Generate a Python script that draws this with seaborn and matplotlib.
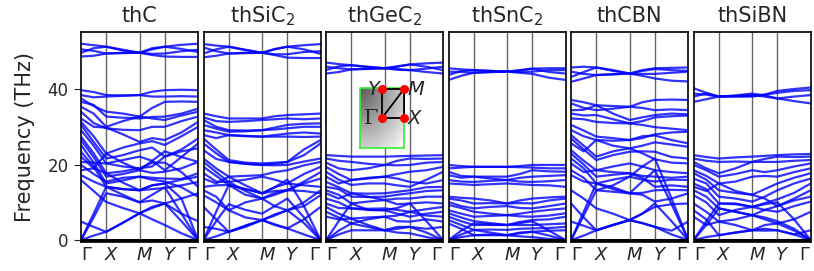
import numpy as np
import pandas as pd
import seaborn as sns
import matplotlib
matplotlib.use("Agg")
import matplotlib.pyplot as plt
from matplotlib.transforms import ScaledTranslation

# high-symmetry path and relative segment lengths (rectangular cell)
path_labels = [r"$\Gamma$", r"$X$", r"$M$", r"$Y$", r"$\Gamma$"]
seg_lengths = [0.757, 1.0, 0.757, 1.0]

titles = ["thC", r"thSiC$_2$", r"thGeC$_2$", r"thSnC$_2$", "thCBN", "thSiBN"]

# band frequencies (THz) read at G, mid, X, mid, M, mid, Y, mid, G
thC = [
    [52.0, 51.6, 51.2, 50.4, 49.6, 50.5, 51.2, 51.7, 52.0],
    [50.5, 50.1, 49.4, 49.5, 49.6, 49.3, 49.4, 50.0, 50.4],
    [49.6, 50.8, 51.2, 50.2, 49.6, 50.8, 51.2, 50.6, 49.8],
    [48.6, 48.8, 49.4, 49.6, 49.6, 49.0, 48.6, 48.5, 48.5],
    [39.7, 39.2, 38.4, 38.3, 38.4, 39.3, 39.7, 39.8, 39.7],
    [38.4, 37.8, 38.0, 38.2, 38.4, 38.0, 38.0, 38.1, 38.0],
    [37.5, 35.5, 34.0, 33.5, 32.7, 35.0, 36.6, 36.7, 36.6],
    [36.6, 35.8, 32.7, 32.4, 32.2, 32.6, 32.7, 33.5, 34.8],
    [35.3, 33.5, 30.0, 31.5, 32.7, 32.2, 31.8, 33.0, 34.0],
    [34.0, 31.0, 29.6, 29.2, 29.1, 30.0, 30.0, 31.5, 32.7],
    [32.2, 30.0, 29.8, 28.0, 26.0, 27.0, 26.5, 28.5, 31.3],
    [31.3, 27.5, 22.9, 24.5, 25.6, 26.2, 25.2, 27.5, 30.0],
    [30.5, 26.0, 21.6, 22.5, 23.8, 24.5, 22.1, 24.0, 26.9],
    [29.1, 25.0, 20.3, 21.2, 22.1, 21.0, 18.5, 22.0, 25.6],
    [27.4, 23.0, 17.7, 18.2, 19.0, 19.5, 22.1, 23.5, 24.3],
    [26.5, 22.0, 16.8, 17.5, 18.5, 17.8, 18.1, 19.0, 20.7],
    [25.2, 20.5, 15.0, 15.8, 16.8, 16.5, 16.3, 16.2, 17.7],
    [23.4, 19.5, 14.1, 13.5, 13.2, 14.5, 15.0, 16.0, 16.8],
    [22.1, 19.0, 17.7, 15.2, 13.2, 13.5, 13.8, 14.5, 15.4],
    [20.7, 20.5, 20.3, 19.5, 19.0, 20.5, 20.5, 18.0, 14.1],
    [19.9, 17.5, 15.5, 16.5, 16.8, 16.0, 15.5, 14.0, 11.5],
    [18.5, 19.0, 22.9, 20.5, 18.5, 21.0, 23.5, 22.0, 20.7],
    [17.2, 15.5, 14.1, 12.0, 10.0, 10.5, 9.7, 11.0, 12.4],
    [15.9, 13.0, 10.1, 8.5, 7.1, 8.5, 9.7, 7.0, 5.0],
    [0.0, 1.2, 2.2, 4.6, 7.1, 5.5, 4.0, 1.8, 0.0],
    [4.9, 3.5, 2.2, 4.6, 7.1, 8.8, 9.7, 5.0, 0.0],
    [0.0, 6.0, 12.4, 11.5, 10.0, 12.0, 14.0, 7.0, 0.0],
    [0.0, 7.0, 14.1, 13.5, 13.2, 14.5, 15.0, 11.0, 0.0],
]

thSiC2 = [
    [51.9, 51.5, 51.2, 50.3, 49.6, 50.5, 51.2, 51.6, 51.9],
    [51.0, 50.0, 49.4, 49.5, 49.6, 49.2, 49.2, 49.8, 50.0],
    [49.4, 50.5, 51.2, 50.4, 49.6, 50.6, 51.2, 50.5, 49.3],
    [48.4, 48.8, 49.4, 49.6, 49.6, 49.0, 48.3, 48.2, 48.2],
    [33.5, 32.8, 32.2, 32.2, 32.2, 32.8, 33.1, 33.3, 33.5],
    [32.5, 31.5, 31.3, 31.5, 31.8, 32.0, 32.2, 32.0, 32.2],
    [31.8, 30.0, 29.1, 29.0, 29.1, 29.8, 30.5, 30.8, 30.9],
    [30.5, 29.5, 28.7, 28.8, 29.1, 29.3, 29.6, 30.0, 30.0],
    [29.1, 28.5, 27.8, 27.5, 27.4, 27.8, 28.2, 28.5, 28.2],
    [27.8, 27.0, 27.8, 27.6, 27.4, 27.4, 27.4, 27.3, 27.4],
    [26.9, 24.0, 21.2, 20.5, 20.3, 20.5, 20.7, 24.0, 26.5],
    [25.6, 23.0, 20.7, 20.2, 19.9, 20.2, 20.7, 22.5, 25.6],
    [23.8, 21.5, 20.7, 20.2, 19.9, 19.8, 19.9, 20.8, 21.6],
    [21.6, 19.0, 16.8, 17.0, 17.2, 18.0, 18.5, 19.8, 20.7],
    [20.7, 18.0, 15.4, 16.0, 16.8, 16.0, 15.0, 17.5, 19.4],
    [19.4, 17.0, 14.6, 13.5, 12.4, 13.0, 13.2, 15.5, 18.0],
    [17.7, 15.5, 15.4, 13.0, 11.0, 12.0, 13.2, 15.0, 16.3],
    [16.3, 15.0, 16.8, 14.5, 12.4, 14.0, 15.0, 14.5, 14.1],
    [14.1, 14.5, 14.6, 12.0, 11.0, 12.5, 13.2, 13.0, 12.4],
    [13.2, 11.5, 7.9, 10.0, 11.0, 9.0, 7.9, 10.0, 13.2],
    [11.9, 10.0, 7.9, 6.0, 5.3, 6.5, 7.9, 9.0, 11.9],
    [8.8, 5.5, 2.2, 3.5, 5.3, 4.0, 3.1, 5.5, 8.8],
    [0.0, 1.0, 2.2, 3.8, 5.3, 4.2, 3.1, 1.5, 0.0],
    [3.5, 3.0, 2.2, 3.8, 5.3, 6.8, 7.9, 4.5, 0.0],
    [0.0, 5.0, 9.5, 8.0, 7.0, 9.0, 11.0, 6.0, 0.0],
    [0.0, 7.5, 14.6, 13.5, 12.4, 14.0, 16.0, 9.0, 0.0],
]

thGeC2 = [
    [47.0, 46.6, 46.3, 45.9, 45.5, 46.0, 46.5, 46.8, 47.0],
    [45.9, 45.5, 45.2, 45.3, 45.5, 45.3, 45.0, 45.4, 45.9],
    [45.0, 46.0, 46.3, 45.8, 45.5, 45.9, 46.5, 45.9, 45.0],
    [44.1, 44.5, 45.2, 45.4, 45.5, 45.1, 45.0, 44.5, 44.1],
    [22.5, 22.3, 22.1, 22.1, 22.1, 22.2, 22.3, 22.4, 22.5],
    [21.6, 21.0, 20.7, 20.2, 19.9, 21.0, 21.6, 21.5, 21.6],
    [20.5, 19.0, 18.5, 19.0, 19.9, 19.8, 19.9, 20.5, 20.7],
    [19.4, 17.5, 15.9, 16.5, 16.8, 17.5, 18.1, 18.5, 19.4],
    [18.1, 16.0, 14.6, 15.0, 15.0, 14.5, 14.1, 16.0, 18.1],
    [16.8, 15.0, 15.9, 16.3, 16.8, 16.3, 15.4, 15.0, 15.9],
    [15.4, 14.0, 12.4, 12.3, 12.4, 12.8, 13.2, 14.0, 14.1],
    [14.1, 13.5, 11.5, 11.4, 11.5, 12.0, 12.4, 13.0, 13.2],
    [13.2, 12.0, 9.7, 10.2, 10.6, 11.0, 11.0, 11.5, 11.5],
    [12.4, 11.0, 12.4, 11.5, 10.6, 9.5, 9.7, 10.0, 9.7],
    [11.0, 10.0, 8.4, 8.3, 8.4, 8.0, 7.5, 8.2, 8.8],
    [9.7, 8.5, 8.4, 8.0, 7.9, 7.0, 6.2, 7.0, 7.5],
    [8.8, 7.0, 5.7, 6.0, 6.2, 6.5, 7.5, 6.5, 6.2],
    [7.5, 6.0, 4.4, 5.5, 6.2, 5.0, 4.9, 5.5, 4.9],
    [6.2, 5.5, 5.7, 4.0, 2.6, 3.5, 3.5, 3.0, 3.5],
    [0.0, 1.5, 2.6, 2.6, 2.6, 2.0, 1.8, 0.8, 0.0],
    [0.0, 2.5, 4.4, 3.5, 2.6, 3.0, 3.5, 2.0, 0.0],
    [0.0, 5.0, 9.7, 8.0, 7.9, 8.5, 9.7, 5.0, 0.0],
]

thSnC2 = [
    [45.5, 45.2, 45.0, 44.8, 44.6, 45.0, 45.4, 45.5, 45.5],
    [44.6, 44.5, 44.3, 44.5, 44.6, 44.5, 44.6, 45.0, 45.0],
    [43.7, 44.8, 45.0, 44.8, 44.6, 44.9, 45.4, 44.5, 44.1],
    [42.4, 43.5, 44.3, 44.5, 44.6, 44.3, 44.0, 43.0, 42.4],
    [19.9, 19.6, 19.4, 19.4, 19.4, 19.6, 19.9, 19.9, 19.9],
    [19.0, 19.2, 19.4, 19.4, 19.4, 19.3, 19.2, 19.0, 19.0],
    [18.1, 17.0, 16.8, 16.8, 16.8, 17.5, 18.5, 18.2, 18.1],
    [17.2, 16.5, 16.8, 16.3, 15.9, 16.5, 16.8, 17.0, 17.2],
    [15.9, 15.5, 15.4, 15.7, 15.9, 15.5, 15.4, 15.6, 15.9],
    [15.0, 14.8, 14.6, 14.8, 15.0, 14.8, 14.6, 14.5, 14.1],
    [11.5, 11.2, 11.0, 10.5, 9.7, 10.5, 11.0, 11.3, 11.5],
    [11.0, 10.5, 9.7, 9.8, 9.7, 9.8, 9.7, 10.5, 11.0],
    [10.1, 9.0, 8.4, 8.8, 9.0, 8.5, 8.4, 9.0, 9.7],
    [9.3, 8.5, 7.5, 7.0, 6.6, 7.0, 7.5, 8.0, 8.4],
    [7.9, 7.0, 6.2, 6.4, 6.6, 6.3, 6.2, 6.5, 7.1],
    [7.1, 6.0, 5.0, 4.5, 4.0, 4.8, 5.3, 5.5, 6.2],
    [6.2, 5.0, 4.0, 4.0, 4.0, 4.0, 4.0, 4.2, 4.4],
    [5.3, 4.0, 2.7, 2.8, 2.7, 3.0, 3.1, 3.2, 3.5],
    [4.4, 3.0, 1.3, 1.5, 1.3, 1.8, 2.2, 2.5, 2.6],
    [0.0, 0.8, 1.3, 1.3, 1.3, 1.0, 0.8, 0.3, 0.0],
    [0.0, 1.5, 2.7, 2.0, 1.3, 2.0, 2.2, 1.2, 0.0],
    [0.0, 2.5, 4.4, 4.2, 4.0, 4.5, 5.0, 2.5, 0.0],
]

thCBN = [
    [45.7, 45.9, 45.7, 45.0, 44.1, 45.0, 45.5, 45.6, 45.7],
    [44.6, 44.0, 43.7, 43.9, 44.1, 44.0, 44.0, 44.3, 44.6],
    [43.2, 44.5, 45.7, 44.8, 44.1, 44.8, 45.3, 45.0, 44.8],
    [41.9, 42.8, 43.7, 43.9, 44.1, 43.5, 42.8, 42.2, 42.0],
    [37.1, 36.5, 35.7, 35.5, 35.3, 36.5, 37.1, 37.2, 37.1],
    [36.2, 35.0, 34.4, 34.8, 35.3, 35.0, 34.4, 34.6, 34.4],
    [34.4, 34.5, 35.7, 33.5, 31.8, 32.5, 33.1, 33.5, 33.3],
    [33.5, 33.0, 33.1, 32.0, 30.9, 31.5, 32.5, 32.8, 33.0],
    [32.2, 32.0, 31.3, 31.0, 30.9, 30.5, 29.9, 29.5, 29.1],
    [30.5, 29.0, 27.4, 27.0, 26.5, 27.0, 28.0, 28.5, 28.7],
    [29.1, 27.5, 26.5, 26.3, 26.5, 27.5, 27.7, 26.5, 25.6],
    [27.8, 25.0, 22.1, 23.5, 24.3, 25.0, 25.9, 25.3, 24.7],
    [26.9, 24.0, 21.2, 22.5, 23.4, 23.5, 23.4, 22.0, 21.6],
    [25.6, 23.5, 26.5, 25.0, 24.3, 23.0, 21.4, 20.5, 20.3],
    [23.8, 21.0, 18.5, 19.5, 20.3, 19.5, 18.5, 18.0, 17.7],
    [22.9, 20.0, 16.8, 17.3, 17.7, 17.0, 16.8, 16.5, 16.8],
    [21.6, 19.0, 15.0, 16.0, 16.8, 16.0, 15.5, 16.0, 15.9],
    [20.3, 18.0, 18.5, 18.0, 17.7, 16.5, 14.1, 14.5, 14.1],
    [18.5, 16.5, 13.2, 12.8, 12.4, 12.5, 13.2, 13.3, 13.2],
    [17.2, 15.5, 15.0, 13.5, 12.4, 12.0, 10.2, 11.0, 12.4],
    [13.2, 11.0, 8.4, 7.0, 5.3, 7.0, 8.8, 9.5, 9.7],
    [9.7, 6.0, 2.6, 4.0, 5.3, 4.5, 3.5, 2.5, 4.9],
    [0.0, 1.2, 2.6, 4.0, 5.3, 4.5, 3.5, 1.5, 0.0],
    [4.9, 3.8, 2.6, 4.0, 5.3, 7.0, 9.7, 5.0, 0.0],
    [0.0, 6.5, 13.2, 14.5, 16.8, 19.5, 21.6, 11.0, 0.0],
    [0.0, 7.5, 15.0, 14.0, 12.4, 15.5, 18.5, 9.5, 0.0],
]

thSiBN = [
    [40.2, 39.0, 38.0, 38.0, 38.0, 38.5, 39.5, 40.0, 40.4],
    [38.8, 38.5, 38.0, 38.1, 38.2, 38.5, 39.0, 39.5, 39.7],
    [38.0, 38.8, 38.0, 38.3, 38.8, 38.3, 37.5, 38.0, 38.4],
    [36.6, 37.3, 38.0, 38.2, 38.4, 38.0, 37.5, 36.8, 36.2],
    [22.5, 22.0, 21.6, 21.9, 22.1, 22.3, 22.5, 22.7, 22.8],
    [21.6, 21.0, 20.7, 20.8, 20.7, 21.5, 22.1, 22.0, 22.1],
    [20.7, 19.0, 17.7, 19.0, 20.7, 20.7, 20.7, 21.0, 21.2],
    [19.9, 18.5, 16.8, 17.5, 18.5, 18.0, 18.5, 19.5, 20.3],
    [18.5, 17.0, 15.0, 15.5, 16.8, 17.0, 16.8, 18.0, 19.0],
    [17.7, 16.0, 13.2, 12.5, 12.0, 13.5, 15.0, 16.5, 17.7],
    [16.3, 15.0, 11.5, 11.0, 10.2, 11.5, 13.2, 15.0, 16.3],
    [15.0, 13.5, 9.7, 9.7, 8.8, 9.8, 10.8, 12.5, 15.0],
    [14.1, 13.0, 15.0, 13.0, 12.0, 11.0, 9.0, 11.0, 13.2],
    [13.2, 11.5, 8.4, 7.5, 6.6, 8.0, 9.0, 10.5, 11.5],
    [11.9, 10.0, 6.6, 8.0, 8.8, 8.0, 7.5, 9.0, 10.2],
    [9.7, 7.5, 4.9, 5.5, 6.6, 5.5, 4.4, 5.5, 7.5],
    [7.9, 5.5, 1.3, 2.0, 2.6, 3.0, 2.6, 1.5, 2.6],
    [6.2, 4.0, 4.9, 4.0, 2.6, 4.0, 4.4, 2.5, 0.0],
    [0.0, 0.8, 1.3, 2.0, 2.6, 2.5, 2.6, 1.5, 0.0],
    [0.0, 4.0, 8.4, 7.5, 6.6, 6.0, 5.0, 3.0, 0.0],
    [0.0, 5.0, 9.7, 9.5, 8.8, 9.5, 10.0, 5.5, 0.0],
]

panels = [thC, thSiC2, thGeC2, thSnC2, thCBN, thSiBN]

# Brillouin zone inset (reduced coordinates)
bz_names = ["Y", "M", r"$\Gamma$", "X"]
bz_kx = [0.0, 0.5, 0.0, 0.5]
bz_ky = [0.5, 0.5, 0.0, 0.0]

# k-axis: nodes and segment midpoints
nodes = np.concatenate([[0.0], np.cumsum(seg_lengths)])
kgrid = []
for i in range(len(seg_lengths)):
    kgrid += [nodes[i], (nodes[i] + nodes[i + 1]) / 2]
kgrid.append(nodes[-1])

sns.set_style("ticks")
plt.rcParams["font.family"] = ["DejaVu Sans"]

fig, axs = plt.subplots(1, 6, figsize=(8.14, 2.71), dpi=100, sharey=True)
fig.subplots_adjust(left=0.0995, right=0.996, top=0.882, bottom=0.107, wspace=0.046)

for ax, bands, title in zip(axs, panels, titles):
    rows = []
    for b, vals in enumerate(bands):
        for k, f in zip(kgrid, vals):
            rows.append((b, k, f))
    df = pd.DataFrame(rows, columns=["band", "k", "freq"])
    sns.lineplot(data=df, x="k", y="freq", units="band", estimator=None,
                 sort=False, color="blue", lw=1.6, alpha=0.8, legend=False, ax=ax)
    for x in nodes[1:-1]:
        ax.axvline(x, color="k", lw=1.0, alpha=0.6, zorder=0)
    ax.axhline(0, color="k", lw=2.2)
    ax.set_xlim(nodes[0], nodes[-1])
    ax.set_ylim(-0.5, 55.1)
    ax.set_xticks(nodes)
    ax.set_xticklabels(path_labels, fontsize=13)
    ax.tick_params(axis="x", length=0, pad=3)
    labs = ax.get_xticklabels()
    labs[0].set_ha("left")
    labs[-1].set_ha("right")
    for lab in labs[1:-1]:
        lab.set_transform(lab.get_transform() + ScaledTranslation(0.05, 0, fig.dpi_scale_trans))
    ax.set_xlabel("")
    ax.set_ylabel("")
    ax.set_title(title, fontsize=15, pad=7)
    for s in ax.spines.values():
        s.set_linewidth(1.2)
        s.set_color("k")

axs[0].set_yticks([0, 20, 40])
axs[0].tick_params(axis="y", labelsize=12, length=5, pad=4)
axs[0].set_ylabel("Frequency (THz)", fontsize=15, labelpad=9)
for ax in axs[1:]:
    ax.tick_params(axis="y", left=False, labelleft=False)

# Brillouin zone inset in the thGeC2 panel
W, H = 814, 271
ins = fig.add_axes([357 / W, 1 - 152 / H, 73 / W, 75 / H])
ins.set_xlim(-0.568, 1.09)
ins.set_ylim(-0.586, 0.707)
ins.axis("off")
ins.patch.set_visible(True)
ins.patch.set_facecolor("white")
gx, gy = np.meshgrid(np.linspace(0, 1, 60), np.linspace(0, 1, 80))
grad = np.sqrt(gx ** 2 + gy ** 2) / np.sqrt(2)
ins.imshow(grad, cmap="gray", vmin=-0.55, vmax=1.0, extent=[-0.5, 0.5, -0.517, 0.517],
           origin="upper", aspect="auto", zorder=1)
ins.plot([-0.5, 0.5, 0.5, -0.5, -0.5], [-0.517, -0.517, 0.517, 0.517, -0.517],
         color="#33ee33", lw=1.2, zorder=2)
order = [2, 3, 1, 0, 2, 1]
ins.plot([bz_kx[i] for i in order], [bz_ky[i] for i in order], color="k", lw=1.3, zorder=3)
ins.scatter(bz_kx, bz_ky, s=30, color="red", zorder=4)
ins.text(bz_kx[0] - 0.05, bz_ky[0], bz_names[0], fontsize=14, style="italic",
         ha="right", va="center", zorder=5)
ins.text(bz_kx[1] + 0.08, bz_ky[1], bz_names[1], fontsize=14, style="italic",
         ha="left", va="center", zorder=5)
ins.text(bz_kx[2] - 0.08, bz_ky[2], "Γ", fontsize=15, family="DejaVu Serif",
         ha="right", va="center", zorder=5)
ins.text(bz_kx[3] + 0.08, bz_ky[3], bz_names[3], fontsize=14, style="italic",
         ha="left", va="center", zorder=5)

fig.savefig("out.png", dpi=100)
